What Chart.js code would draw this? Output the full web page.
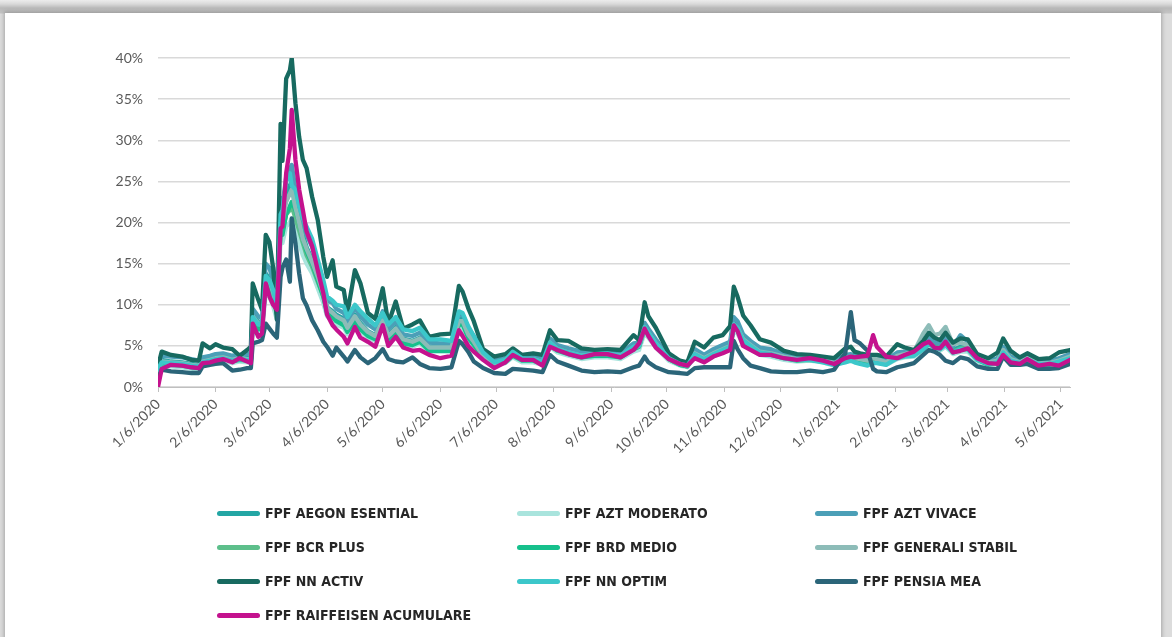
<!DOCTYPE html>
<html>
<head>
<meta charset="utf-8">
<title>Volatilitate FPF</title>
<script src="https://cdn.jsdelivr.net/npm/chart.js@4.4.1/dist/chart.umd.min.js"></script>
<style>
  html, body { margin: 0; padding: 0; }
  body {
    width: 1172px; height: 637px; overflow: hidden; position: relative;
    background: linear-gradient(#ececec 0px, #d9d9d9 4px, #b9b9b9 8px, #c4c4c4 13px, #dcdcdc 14px);
  }
  #card {
    position: absolute; left: 5px; top: 13px; width: 1156px; height: 640px;
    background: #fff;
    box-shadow: 0 0 4px 1px rgba(0,0,0,0.25);
  }
  #chart { position: absolute; left: 0; top: 0; }
  #legend { position: absolute; left: 0; top: 0; width: 1172px; height: 637px; pointer-events: none; }
  .item {
    position: absolute; height: 20px; display: flex; align-items: center;
    font-family: "Liberation Sans Narrow", "DejaVu Sans Condensed", "Liberation Sans", sans-serif;
    font-weight: bold; font-size: 14px; color: #262626; white-space: nowrap;
  }
  .swatch { width: 43px; height: 5px; border-radius: 3px; margin-right: 5px; }
</style>
</head>
<body>
<div id="card"></div>
<canvas id="chart" width="1172" height="480"></canvas>
<div id="legend"></div>
<script>
// Day offsets from 1/6/2020 for every sampled observation
const days = [
  0, 2, 7, 13, 18, 22, 24, 28, 31, 35,
  40, 44, 48, 50, 51, 54, 56, 58, 60, 62,
  64, 66, 67, 69, 71, 72, 74, 76, 78, 80,
  83, 86, 89, 91, 94, 96, 100, 102, 106, 109,
  113, 117, 121, 124, 128, 132, 137, 141, 146, 152,
  158, 162, 164, 167, 170, 175, 181, 187, 191, 196,
  202, 207, 211, 215, 221, 228, 235, 242, 249, 256,
  259, 262, 264, 268, 275, 281, 285, 289, 294, 299,
  304, 308, 310, 312, 315, 319, 324, 330, 337, 344,
  351, 358, 364, 370, 373, 375, 378, 382, 385, 387,
  392, 398, 402, 407, 412, 415, 418, 421, 424, 428,
  432, 436, 441, 447, 452, 455, 459, 464, 468, 474,
  480, 485, 491
];

// Monthly axis ticks (day offset and label)
const tickDays = [0, 31, 60, 91, 121, 152, 182, 213, 244, 274, 305, 335, 366, 397, 425, 456, 486];
const tickLabels = ['1/6/2020', '2/6/2020', '3/6/2020', '4/6/2020', '5/6/2020', '6/6/2020',
  '7/6/2020', '8/6/2020', '9/6/2020', '10/6/2020', '11/6/2020', '12/6/2020',
  '1/6/2021', '2/6/2021', '3/6/2021', '4/6/2021', '5/6/2021'];

// Annualised volatility, percent
const aegonEsential = [
  1.8, 3.3, 3.1, 3.0, 2.8, 2.7, 3.3, 3.5, 3.6, 3.8,
  3.5, 3.7, 3.6, 3.5, 8.8, 7.9, 7.8, 13.8, 13.2, 11.7,
  9.3, 21.5, 20.5, 23.5, 24.5, 25.0, 22.5, 20.5, 18.5, 17.0,
  15.5, 13.5, 11.6, 9.7, 9.2, 8.8, 8.3, 7.3, 8.8, 7.8,
  6.8, 6.3, 8.3, 6.3, 7.3, 5.9, 5.6, 6.0, 4.9, 4.9,
  4.9, 8.3, 8.3, 6.6, 5.7, 3.9, 2.9, 3.2, 4.1, 3.4,
  3.4, 3.0, 5.5, 4.7, 4.3, 3.9, 4.1, 4.1, 3.8, 4.9,
  5.1, 7.3, 6.7, 5.4, 3.5, 2.8, 2.6, 4.2, 3.5, 4.2,
  4.7, 5.1, 7.8, 7.4, 5.9, 5.2, 4.4, 4.2, 3.7, 3.4,
  3.5, 3.3, 2.9, 3.5, 3.7, 3.5, 3.4, 3.2, 3.5, 3.4,
  3.0, 3.8, 4.0, 4.1, 4.9, 5.6, 5.0, 4.9, 5.5, 4.5,
  4.9, 4.9, 3.5, 2.9, 3.2, 4.5, 3.4, 3.0, 3.5, 2.9,
  2.9, 3.2, 3.7
];
const aztModerato = [
  1.5, 2.6, 2.5, 2.4, 2.2, 2.1, 2.7, 2.9, 3.0, 3.2,
  2.9, 3.1, 3.0, 2.9, 7.2, 6.5, 6.6, 11.5, 11.0, 9.8,
  8.2, 18.0, 17.5, 19.5, 20.0, 20.5, 19.0, 17.5, 16.0, 15.0,
  13.8, 12.0, 10.2, 8.6, 8.0, 7.6, 7.2, 6.4, 7.6, 6.8,
  6.0, 5.6, 7.2, 5.6, 6.4, 5.1, 4.9, 5.3, 4.3, 4.3,
  4.3, 7.2, 7.2, 5.8, 4.9, 3.4, 2.6, 2.9, 3.6, 3.0,
  3.0, 2.7, 4.9, 4.2, 3.8, 3.4, 3.6, 3.6, 3.4, 4.3,
  4.5, 6.6, 6.0, 4.8, 3.2, 2.6, 2.4, 3.7, 3.1, 3.7,
  4.2, 4.5, 6.9, 6.5, 5.2, 4.6, 3.9, 3.7, 3.3, 3.1,
  3.2, 3.0, 2.6, 3.1, 3.3, 3.1, 3.0, 2.8, 3.1, 3.0,
  2.7, 3.4, 3.6, 3.7, 4.4, 5.0, 4.5, 4.4, 4.9, 4.0,
  4.3, 4.3, 3.1, 2.6, 2.9, 4.0, 3.0, 2.7, 3.1, 2.6,
  2.6, 2.9, 3.3
];
const aztVivace = [
  2.3, 3.8, 3.7, 3.6, 3.4, 3.2, 3.6, 3.8, 4.0, 4.1,
  3.8, 3.9, 4.0, 4.1, 9.5, 8.6, 8.3, 15.0, 14.5, 12.8,
  9.8, 23.0, 22.0, 25.5, 26.5, 27.0, 24.0, 22.0, 20.0, 18.5,
  17.0, 14.8, 12.5, 10.5, 10.2, 9.5, 9.0, 8.0, 9.6, 8.6,
  7.6, 7.0, 9.2, 7.0, 8.0, 6.4, 6.2, 6.6, 5.4, 5.3,
  5.3, 8.8, 8.8, 7.2, 6.2, 4.3, 3.2, 3.5, 4.4, 3.8,
  3.8, 3.4, 5.9, 5.1, 4.7, 4.3, 4.4, 4.4, 4.1, 5.3,
  5.4, 7.8, 7.1, 5.8, 3.8, 3.1, 2.9, 4.6, 3.9, 4.6,
  5.1, 5.5, 8.5, 8.0, 6.4, 5.6, 4.8, 4.6, 4.0, 3.7,
  3.8, 3.6, 3.2, 3.9, 4.0, 3.8, 3.7, 3.5, 3.8, 3.7,
  3.3, 4.2, 4.3, 4.4, 5.3, 6.1, 5.5, 5.2, 5.9, 4.9,
  6.3, 5.5, 3.9, 3.2, 3.5, 4.9, 3.7, 3.3, 3.8, 3.2,
  3.2, 3.5, 4.0
];
const bcrPlus = [
  1.9, 3.0, 2.8, 2.7, 2.5, 2.4, 3.0, 3.2, 3.4, 3.5,
  3.2, 3.4, 3.3, 3.2, 8.2, 7.3, 7.3, 12.8, 12.4, 11.0,
  8.8, 19.5, 19.0, 21.0, 21.5, 22.0, 20.5, 19.0, 17.5, 16.0,
  14.6, 12.8, 11.0, 9.2, 8.7, 8.3, 7.8, 6.9, 8.3, 7.3,
  6.4, 6.0, 7.8, 6.0, 6.9, 5.5, 5.3, 5.7, 4.6, 4.6,
  4.6, 7.8, 7.8, 6.2, 5.3, 3.7, 2.8, 3.1, 3.9, 3.3,
  3.3, 2.9, 5.3, 4.5, 4.1, 3.7, 3.9, 3.9, 3.7, 4.7,
  4.9, 7.0, 6.4, 5.1, 3.4, 2.7, 2.5, 4.0, 3.4, 4.0,
  4.5, 4.9, 7.4, 7.0, 5.6, 4.9, 4.2, 4.0, 3.6, 3.3,
  3.4, 3.2, 2.8, 3.4, 3.6, 3.4, 3.3, 3.1, 3.4, 3.3,
  2.9, 3.7, 3.9, 4.0, 4.7, 5.4, 4.9, 4.7, 5.3, 4.3,
  4.7, 4.7, 3.4, 2.8, 3.1, 4.3, 3.3, 2.9, 3.4, 2.8,
  2.8, 3.1, 3.6
];
const brdMedio = [
  1.7, 2.9, 2.7, 2.6, 2.4, 2.3, 2.9, 3.1, 3.3, 3.4,
  3.1, 3.3, 3.2, 3.1, 8.0, 7.0, 7.1, 12.5, 12.0, 10.8,
  9.0, 19.0, 18.5, 21.0, 22.0, 22.5, 21.5, 20.0, 18.0, 16.5,
  15.0, 13.0, 11.0, 9.0, 8.5, 8.0, 7.5, 6.7, 8.0, 7.0,
  6.2, 5.8, 7.6, 5.8, 6.7, 5.3, 5.1, 5.5, 4.4, 4.4,
  4.4, 7.6, 7.6, 6.0, 5.1, 3.6, 2.7, 3.0, 3.8, 3.2,
  3.2, 2.8, 5.2, 4.4, 4.0, 3.6, 3.8, 3.8, 3.6, 4.6,
  4.9, 7.2, 6.5, 5.2, 3.4, 2.7, 2.5, 3.9, 3.3, 3.9,
  4.4, 4.8, 7.3, 6.9, 5.5, 4.8, 4.1, 3.9, 3.5, 3.2,
  3.3, 3.1, 2.7, 3.3, 3.5, 3.3, 3.2, 3.0, 3.3, 3.2,
  2.8, 3.6, 3.8, 3.9, 4.6, 5.3, 4.8, 4.6, 5.2, 4.2,
  4.6, 4.6, 3.3, 2.7, 3.0, 4.2, 3.2, 2.8, 3.3, 2.7,
  2.7, 3.0, 3.5
];
const generaliStabil = [
  2.0, 3.1, 3.0, 2.9, 2.7, 2.6, 3.1, 3.3, 3.5, 3.6,
  3.3, 3.5, 3.4, 3.3, 8.6, 7.7, 7.7, 13.4, 12.9, 11.5,
  9.2, 20.5, 20.0, 22.5, 23.5, 24.0, 21.8, 20.0, 18.0, 16.8,
  15.2, 13.4, 11.4, 9.6, 9.0, 8.6, 8.1, 7.2, 8.6, 7.6,
  6.7, 6.2, 8.1, 6.2, 7.1, 5.8, 5.5, 5.9, 4.8, 4.8,
  4.8, 8.0, 8.0, 6.4, 5.5, 3.8, 2.9, 3.2, 4.0, 3.4,
  3.4, 3.0, 5.4, 4.6, 4.2, 3.8, 4.0, 4.0, 3.8, 4.8,
  5.0, 7.2, 6.6, 5.3, 3.5, 2.8, 2.6, 4.1, 3.5, 4.1,
  4.6, 5.0, 7.6, 7.2, 5.8, 5.1, 4.3, 4.1, 3.7, 3.4,
  3.5, 3.3, 2.9, 3.5, 3.7, 3.5, 3.4, 3.2, 3.5, 3.4,
  3.0, 3.8, 4.0, 4.3, 6.5, 7.5, 6.3, 6.5, 7.3, 5.2,
  5.4, 5.1, 3.6, 3.0, 3.2, 4.5, 3.4, 3.0, 3.5, 2.9,
  2.9, 3.2, 3.7
];
const nnActiv = [
  2.5, 4.3, 3.9, 3.7, 3.3, 3.2, 5.3, 4.7, 5.2, 4.8,
  4.6, 3.8, 4.5, 4.9, 12.6, 10.6, 9.4, 18.5, 17.6, 14.5,
  8.2, 32.0, 27.5, 37.5, 38.5, 40.0, 34.5, 30.4, 27.6, 26.6,
  23.1, 20.3, 15.8, 13.4, 15.4, 12.2, 11.8, 9.0, 14.2, 12.6,
  9.0, 8.3, 12.0, 7.7, 10.4, 7.1, 7.6, 8.1, 6.1, 6.4,
  6.5, 12.3, 11.6, 9.6, 8.0, 4.6, 3.7, 4.0, 4.7, 3.9,
  4.1, 3.9, 6.9, 5.7, 5.6, 4.7, 4.5, 4.6, 4.5, 6.3,
  5.7, 10.3, 8.6, 7.2, 4.1, 3.2, 3.0, 5.5, 4.8, 6.0,
  6.3, 7.4, 12.2, 11.0, 8.7, 7.5, 5.8, 5.4, 4.4, 4.0,
  3.9, 3.7, 3.5, 4.7, 4.9, 4.3, 4.1, 3.9, 3.9, 3.9,
  3.7, 5.2, 4.8, 4.5, 5.6, 6.6, 6.0, 5.7, 6.6, 5.4,
  5.9, 5.8, 4.0, 3.5, 4.2, 5.9, 4.4, 3.6, 4.1, 3.4,
  3.5, 4.2, 4.5
];
const nnOptim = [
  2.2, 3.0, 2.9, 2.8, 2.6, 2.5, 3.0, 3.2, 3.4, 3.5,
  3.2, 3.4, 3.3, 3.2, 8.5, 7.6, 7.8, 13.5, 13.0, 11.8,
  9.8, 21.0, 21.5, 25.0, 26.0, 24.5, 24.0, 22.0, 20.5, 19.5,
  18.0, 15.5, 13.0, 11.0, 10.5, 10.0, 9.8, 8.5, 10.0, 9.2,
  8.3, 7.5, 9.0, 7.6, 8.5, 7.0, 6.8, 7.2, 5.8, 5.8,
  5.6, 9.2, 9.0, 7.4, 6.2, 4.2, 3.0, 3.3, 4.3, 3.5,
  3.4, 3.0, 5.4, 4.6, 4.2, 3.8, 4.0, 4.1, 3.8, 4.9,
  5.0, 7.3, 6.6, 5.3, 3.5, 2.8, 2.6, 4.0, 3.4, 4.0,
  4.5, 4.9, 7.6, 7.2, 5.7, 5.0, 4.2, 4.0, 3.5, 3.3,
  3.3, 3.0, 2.7, 3.0, 3.2, 3.0, 2.8, 2.6, 2.9, 2.9,
  2.7, 3.5, 3.7, 3.8, 4.6, 5.3, 4.8, 4.6, 5.1, 4.2,
  4.6, 4.6, 3.3, 2.8, 3.0, 4.2, 3.2, 2.9, 3.3, 2.8,
  2.8, 3.1, 3.5
];
const pensiaMea = [
  1.0, 2.1, 1.9, 1.8, 1.7, 1.7, 2.5, 2.7, 2.8, 2.9,
  2.0, 2.1, 2.3, 2.3, 5.3, 5.5, 5.7, 7.7, 7.1, 6.5,
  6.0, 13.4, 14.5, 15.5, 12.8, 20.5, 17.5, 13.8, 10.8, 9.9,
  8.1, 6.9, 5.5, 4.9, 3.8, 4.8, 3.7, 3.1, 4.5, 3.6,
  2.9, 3.5, 4.6, 3.4, 3.1, 3.0, 3.6, 2.8, 2.3, 2.2,
  2.4, 5.6, 5.2, 4.3, 3.1, 2.3, 1.7, 1.6, 2.2, 2.1,
  2.0, 1.8, 3.9, 3.1, 2.6, 2.0, 1.8, 1.9, 1.8, 2.4,
  2.6, 3.7, 3.0, 2.4, 1.8, 1.7, 1.6, 2.3, 2.4, 2.4,
  2.4, 2.4, 5.6, 4.6, 3.5, 2.6, 2.3, 1.9, 1.8, 1.8,
  2.0, 1.8, 2.1, 4.1, 9.1, 5.7, 5.3, 4.4, 2.2, 1.9,
  1.8, 2.4, 2.6, 2.9, 3.9, 4.5, 4.3, 3.9, 3.2, 2.9,
  3.6, 3.4, 2.5, 2.2, 2.2, 3.7, 2.7, 2.7, 2.8, 2.2,
  2.2, 2.3, 2.8
];
const raiffeisenAcumulare = [
  0.0, 2.2, 2.7, 2.6, 2.4, 2.3, 2.9, 3.0, 3.2, 3.4,
  3.0, 3.5, 3.1, 2.9, 7.7, 6.1, 6.5, 12.6, 11.0, 10.0,
  9.4, 19.3, 19.5, 26.0, 29.0, 33.7, 27.6, 24.0, 21.5, 18.9,
  17.1, 14.2, 11.4, 8.8, 7.5, 7.0, 6.1, 5.3, 7.3, 6.0,
  5.5, 4.9, 7.5, 5.0, 6.1, 4.8, 4.4, 4.5, 3.9, 3.5,
  3.8, 6.9, 6.2, 5.0, 4.3, 3.3, 2.3, 3.0, 3.9, 3.3,
  3.3, 2.6, 4.9, 4.5, 4.0, 3.6, 4.0, 4.0, 3.6, 4.5,
  5.3, 7.1, 6.2, 4.8, 3.4, 2.8, 2.6, 3.5, 3.0, 3.7,
  4.1, 4.5, 7.5, 6.8, 5.0, 4.5, 3.9, 3.9, 3.5, 3.3,
  3.5, 3.2, 2.8, 3.5, 3.7, 3.6, 3.7, 3.8, 6.3, 4.9,
  3.7, 3.5, 3.9, 4.3, 5.2, 5.5, 4.8, 4.7, 5.5, 4.2,
  4.4, 4.7, 3.5, 2.9, 2.8, 3.9, 3.0, 2.8, 3.4, 2.6,
  2.8, 2.6, 3.3
];

const fundNames = ['FPF AEGON ESENTIAL', 'FPF AZT MODERATO', 'FPF AZT VIVACE',
  'FPF BCR PLUS', 'FPF BRD MEDIO', 'FPF GENERALI STABIL',
  'FPF NN ACTIV', 'FPF NN OPTIM', 'FPF PENSIA MEA', 'FPF RAIFFEISEN ACUMULARE'];
const fundValues = [aegonEsential, aztModerato, aztVivace, bcrPlus, brdMedio,
  generaliStabil, nnActiv, nnOptim, pensiaMea, raiffeisenAcumulare];
const fundColors = ['#23a6a4', '#a9e4dd', '#4b9fb7', '#5dbf8b', '#16c08c',
  '#8dbcb8', '#176a60', '#3cc7ca', '#2b6579', '#c4128e'];

const datasets = fundNames.map((name, i) => ({
  label: name,
  data: days.map((d, k) => ({ x: d, y: fundValues[i][k] })),
  borderColor: fundColors[i],
  backgroundColor: fundColors[i],
  borderWidth: 4.3,
  pointRadius: 0,
  tension: 0,
  borderJoinStyle: 'round',
  borderCapStyle: 'round',
  // later funds are painted over earlier ones
  order: fundNames.length - i
}));

const axisFont = { family: 'Lato, "Open Sans", sans-serif', size: 14 };
const CANVAS_H = 480;
const PLOT_BOTTOM = 387;

const chart = new Chart(document.getElementById('chart'), {
  type: 'line',
  data: { datasets },
  options: {
    responsive: false,
    animation: false,
    events: [],
    layout: { padding: { left: 0, top: 58, right: 102, bottom: 0 } },
    plugins: { legend: { display: false }, tooltip: { enabled: false } },
    scales: {
      x: {
        type: 'linear',
        min: 0,
        max: 491,
        afterBuildTicks: (scale) => { scale.ticks = tickDays.map(v => ({ value: v })); },
        afterFit: (scale) => { scale.height = CANVAS_H - PLOT_BOTTOM; },
        ticks: {
          autoSkip: false,
          maxRotation: 45,
          minRotation: 45,
          padding: 4,
          color: '#595959',
          font: axisFont,
          callback: (value) => tickLabels[tickDays.indexOf(value)]
        },
        grid: { drawOnChartArea: false, drawTicks: true, tickLength: 5, color: '#bfbfbf', lineWidth: 1 },
        border: { display: true, color: '#bfbfbf', width: 1 }
      },
      y: {
        min: 0,
        max: 40,
        afterFit: (scale) => { scale.width = 158; },
        ticks: {
          stepSize: 5,
          padding: 15,
          color: '#595959',
          font: axisFont,
          callback: (v) => v + '%'
        },
        grid: { color: '#d9d9d9', lineWidth: 1.5, drawTicks: false },
        border: { display: false }
      }
    }
  }
});

// Legend laid out in three columns under the plot
const legend = document.getElementById('legend');
const colX = [217, 517, 815];
const rowY = [513, 547, 581, 615];
chart.data.datasets.forEach((ds, i) => {
  const item = document.createElement('div');
  item.className = 'item';
  item.style.left = colX[i % 3] + 'px';
  item.style.top = (rowY[Math.floor(i / 3)] - 10) + 'px';
  const sw = document.createElement('span');
  sw.className = 'swatch';
  sw.style.background = ds.borderColor;
  const tx = document.createElement('span');
  tx.textContent = ds.label;
  item.appendChild(sw);
  item.appendChild(tx);
  legend.appendChild(item);
});
</script>
</body>
</html>
